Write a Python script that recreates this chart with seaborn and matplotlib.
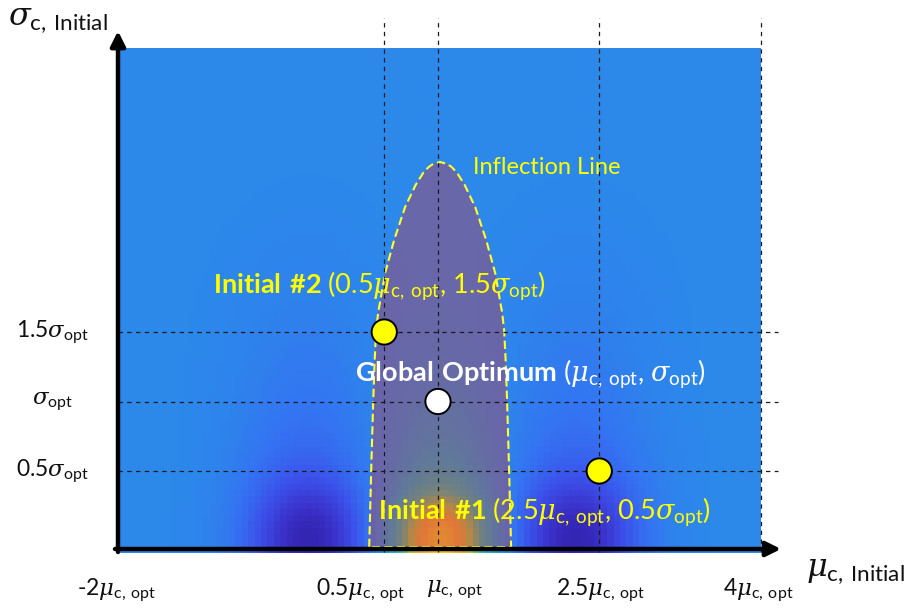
import numpy as np
import matplotlib
matplotlib.use("Agg")
import matplotlib.pyplot as plt
from matplotlib.colors import LinearSegmentedColormap
import seaborn as sns

# ---------------- data ----------------
x_tick_vals = [-2.0, 0.5, 1.0, 2.5, 4.0]
x_tick_labels = [r"-2$\mu_{\mathrm{c,\,opt}}$", r"0.5$\mu_{\mathrm{c,\,opt}}$",
                 r"$\mu_{\mathrm{c,\,opt}}$", r"2.5$\mu_{\mathrm{c,\,opt}}$",
                 r"4$\mu_{\mathrm{c,\,opt}}$"]
y_tick_vals = [0.5, 1.0, 1.5]
y_tick_labels = [r"0.5$\sigma_{\mathrm{opt}}$", r"$\sigma_{\mathrm{opt}}$",
                 r"1.5$\sigma_{\mathrm{opt}}$"]
guide_x = [0.5, 1.0, 2.5, 4.0]
guide_y = [0.5, 1.0, 1.5]

pt_names = ["Initial #2", "Global Optimum", "Initial #1"]
pt_mu = [0.5, 1.0, 2.5]
pt_sigma = [1.5, 1.0, 0.5]
pt_colors = ["#ffff00", "#ffffff", "#ffff00"]

# inflection line (symmetric dome), centre and half-widths vs sigma
dome_center = 1.02
dome_sigma = [-0.047, 0.486, 0.996, 1.299, 1.514, 1.637, 1.924, 2.162, 2.399,
              2.558, 2.644, 2.687, 2.709, 2.723]
dome_halfwidth = [0.660, 0.642, 0.623, 0.609, 0.595, 0.577, 0.512, 0.428, 0.326,
                  0.228, 0.158, 0.107, 0.065, 0.0]

# background landscape parameters
lobe_mu = [-0.22, 2.29]        # dark basins near sigma = 0
peak_mu = 1.02                 # bright region at the optimum
field_extent = [-1.96, 4.0, -0.09, 3.543]

# ---------------- style ----------------
sns.set_theme(style="white")
plt.rcParams["font.family"] = ["Lato", "DejaVu Sans"]
plt.rcParams["mathtext.fontset"] = "custom"
plt.rcParams["mathtext.rm"] = "Lato"
plt.rcParams["mathtext.it"] = "DejaVu Serif:italic"
plt.rcParams["mathtext.bf"] = "Lato:bold"

W, H = 905, 613
fig = plt.figure(figsize=(W / 100, H / 100), dpi=100)
ax = fig.add_axes([0, 0, 1, 1])


def px2x(px):
    return (px - 438) / 107.5 + 1


def py2y(py):
    return (540.5 - py) / 139


ax.set_xlim(px2x(0), px2x(W))
ax.set_ylim(py2y(H), py2y(0))
ax.axis("off")

# ---------------- background field ----------------
nx, ny = 100, 80
xe0, xe1, ye0, ye1 = field_extent
xc = np.linspace(xe0, xe1, nx)
yc = np.linspace(ye0, ye1, ny)
X, Y = np.meshgrid(xc, yc)
Yp = np.clip(Y, 0, None)
Z = np.full_like(X, 0.5)
for x0 in lobe_mu:
    Z -= 0.20 * np.exp(-((X - x0) / 0.5) ** 2 - (Yp / 0.4) ** 2)
    Z -= 0.07 * np.exp(-((X - x0) / 0.65) ** 2 - (Yp / 1.0) ** 2)
    Z -= 0.03 * np.exp(-((X - x0) / 0.8) ** 2 - (Yp / 2.2) ** 4)
Z += 0.15 * np.exp(-((X - peak_mu) / 0.5) ** 2 - (Yp / 0.9) ** 2)
Z += 0.31 * np.exp(-((X - peak_mu) / 0.42) ** 2 - (Yp / 0.3) ** 2)
Z = np.clip(Z, 0, 1)

cmap = LinearSegmentedColormap.from_list("land", [
    (0.0, "#140a30"), (0.15, "#2c1ca0"), (0.25, "#3a30c8"), (0.35, "#3c50ea"),
    (0.44, "#3474f2"), (0.5, "#2c8aea"), (0.6, "#1fa8d0"), (0.7, "#40b8a0"),
    (0.8, "#b0c040"), (0.88, "#f8a030"), (1.0, "#f8d820")])
ax.imshow(Z, extent=field_extent, origin="lower", cmap=cmap, vmin=0, vmax=1,
          interpolation="nearest", aspect="auto", zorder=1)

# ---------------- inflection dome ----------------
ds = np.array(dome_sigma)
dh = np.array(dome_halfwidth)
left_x = dome_center - dh
right_x = dome_center + dh
xs = np.concatenate([left_x, right_x[::-1][1:], [left_x[0]]])
ys = np.concatenate([ds, ds[::-1][1:], [ds[0]]])
ax.fill(xs, ys, color="#c33548", alpha=0.4, lw=0, zorder=2)
sns.lineplot(x=xs, y=ys, sort=False, estimator=None, ax=ax, color="#ffff30",
             lw=1.5, linestyle=(0, (4, 2)), zorder=3)

# ---------------- guide lines ----------------
for gx in guide_x:
    ax.plot([gx, gx], [py2y(552), py2y(18)], color="#1a1a1a", lw=0.9,
            linestyle=(0, (3.5, 3.5)), zorder=4)
for gy in guide_y:
    ax.plot([px2x(118), px2x(778)], [gy, gy], color="#1a1a1a", lw=0.9,
            linestyle=(0, (3.5, 3.5)), zorder=4)

# ---------------- axes arrows ----------------
ax.annotate("", xy=(px2x(118), py2y(31)), xytext=(px2x(118), py2y(552)),
            arrowprops=dict(arrowstyle="-|>", lw=3.2, color="black",
                            mutation_scale=22, shrinkA=0, shrinkB=0), zorder=6)
ax.annotate("", xy=(px2x(781), py2y(549)), xytext=(px2x(115), py2y(549)),
            arrowprops=dict(arrowstyle="-|>", lw=3.2, color="black",
                            mutation_scale=22, shrinkA=0, shrinkB=0), zorder=6)

# ---------------- points ----------------
sns.scatterplot(x=pt_mu, y=pt_sigma, hue=pt_names,
                palette=dict(zip(pt_names, pt_colors)), s=330,
                edgecolor="black", linewidth=1.4, legend=False, ax=ax, zorder=7)

# ---------------- tick labels ----------------
x_label_px = [117, 361, 455, 601, 758]
for v, lab, p in zip(x_tick_vals, x_tick_labels, x_label_px):
    ax.text(px2x(p), py2y(590), lab, ha="center", va="center", fontsize=16.5,
            color="#111111")
for v, lab in zip(y_tick_vals, y_tick_labels):
    ax.text(px2x(53), v, lab, ha="center", va="center", fontsize=16.5,
            color="#111111")

ax.text(px2x(8), py2y(20), r"$\sigma_{\mathrm{c,\,Initial}}$", ha="left",
        va="center", fontsize=23, color="#111111")
ax.text(px2x(806), py2y(571), r"$\mu_{\mathrm{c,\,Initial}}$", ha="left",
        va="center", fontsize=23, color="#111111")

# ---------------- annotations ----------------
ax.text(px2x(473), py2y(168), "Inflection Line", ha="left", va="center",
        fontsize=17, color="#ffff00", zorder=8)
ax.text(px2x(213), py2y(286),
        r"$\mathbf{Initial\ \#2}$ (0.5$\mu_{\mathrm{c,\,opt}}$, 1.5$\sigma_{\mathrm{opt}}$)",
        ha="left", va="center", fontsize=19.5, color="#ffff00", zorder=8)
ax.text(px2x(355), py2y(373),
        r"$\mathbf{Global\ Optimum}$ ($\mu_{\mathrm{c,\,opt}}$, $\sigma_{\mathrm{opt}}$)",
        ha="left", va="center", fontsize=19.5, color="white", zorder=8)
ax.text(px2x(378), py2y(512),
        r"$\mathbf{Initial\ \#1}$ (2.5$\mu_{\mathrm{c,\,opt}}$, 0.5$\sigma_{\mathrm{opt}}$)",
        ha="left", va="center", fontsize=19.5, color="#ffff00", zorder=8)

fig.savefig("out.png", dpi=100)
